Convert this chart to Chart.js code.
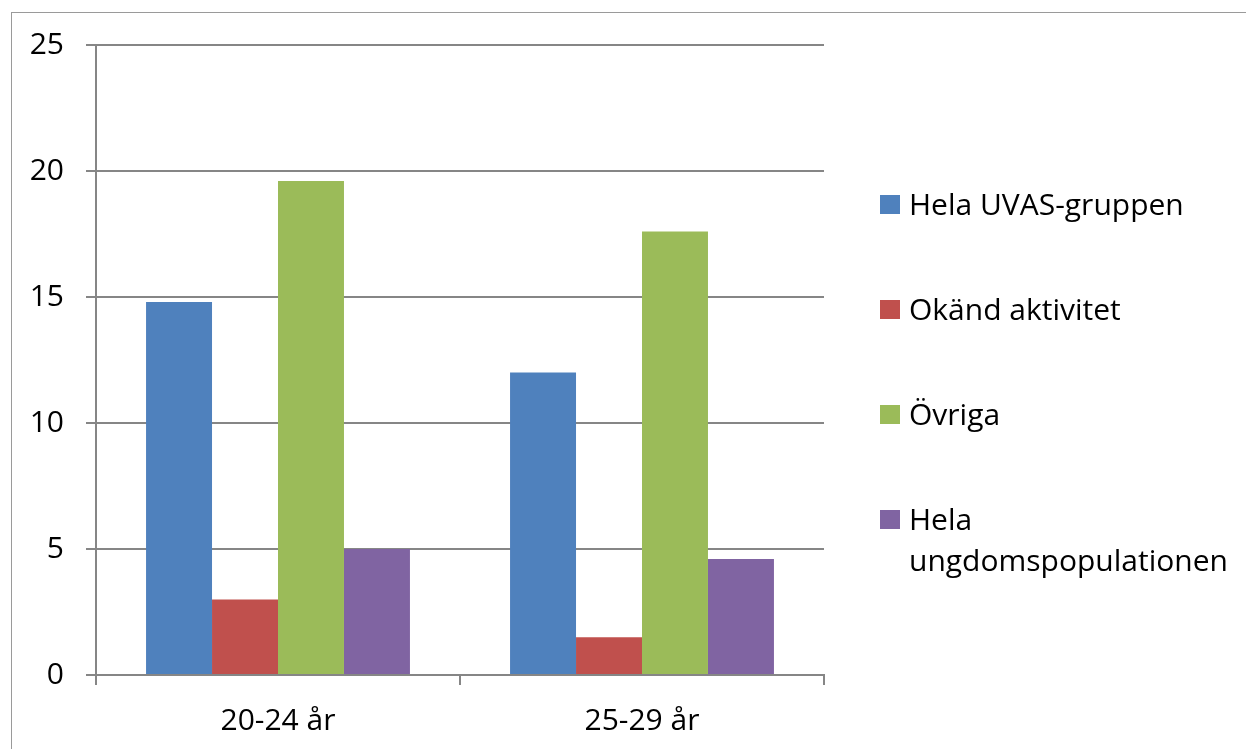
<!DOCTYPE html>
<html>
<head>
<meta charset="utf-8">
<script src="https://cdn.jsdelivr.net/npm/chart.js@4/dist/chart.umd.min.js"></script>
<style>
  html, body { margin: 0; padding: 0; background: #fff; }
  #wrap { width: 1246px; height: 749px; position: relative; }
</style>
</head>
<body>
<div id="wrap"><canvas id="chart" width="1246" height="749"></canvas></div>
<script>
// Categories and series
const categories = ["20-24 år", "25-29 år"];
const seriesNames = ["Hela UVAS-gruppen", "Okänd aktivitet", "Övriga", "Hela ungdomspopulationen"];
const uvasValues = [14.8, 12.0];
const okandValues = [3.0, 1.5];
const ovrigaValues = [19.6, 17.6];
const helaValues = [5.0, 4.6];
const seriesColors = ["#4F81BD", "#C0504D", "#9BBB59", "#8064A2"];

const FONT = "'Open Sans', Lato, sans-serif";
const gridGrey = "#868686";

// Outer frame, cut off at right and bottom like the source
const framePlugin = {
  id: "frame",
  beforeDraw(chart) {
    const ctx = chart.ctx;
    ctx.save();
    ctx.fillStyle = "#fff";
    ctx.fillRect(0, 0, chart.width, chart.height);
    ctx.strokeStyle = "#9a9a9a";
    ctx.lineWidth = 1;
    ctx.strokeRect(11.5, 12.5, 2000, 2000);
    ctx.restore();
  }
};

// Legend on the right, with wide spacing and wrapped labels
const sideLegend = {
  id: "sideLegend",
  afterDraw(chart) {
    const ctx = chart.ctx;
    ctx.save();
    ctx.font = "30px " + FONT;
    ctx.textBaseline = "alphabetic";
    ctx.fillStyle = "#000";
    const maxW = 330;
    chart.data.datasets.forEach((ds, i) => {
      const top = 195 + i * 105;
      ctx.fillStyle = ds.backgroundColor;
      ctx.fillRect(880, top, 20, 19);
      ctx.fillStyle = "#000";
      // simple word wrap
      const words = ds.label.split(" ");
      let lines = [], line = "";
      words.forEach(w => {
        const test = line ? line + " " + w : w;
        if (ctx.measureText(test).width > maxW && line) {
          lines.push(line);
          line = w;
        } else {
          line = test;
        }
      });
      lines.push(line);
      lines.forEach((l, j) => {
        ctx.fillText(l, 909, top + 20 + j * 41);
      });
    });
    ctx.restore();
  }
};

new Chart(document.getElementById("chart"), {
  type: "bar",
  plugins: [framePlugin, sideLegend],
  data: {
    labels: categories,
    datasets: [
      { label: seriesNames[0], data: uvasValues, backgroundColor: seriesColors[0] },
      { label: seriesNames[1], data: okandValues, backgroundColor: seriesColors[1] },
      { label: seriesNames[2], data: ovrigaValues, backgroundColor: seriesColors[2] },
      { label: seriesNames[3], data: helaValues, backgroundColor: seriesColors[3] },
    ],
  },
  options: {
    responsive: false,
    animation: false,
    layout: { padding: { top: 45, right: 422, left: 0, bottom: 0 } },
    datasets: { bar: { categoryPercentage: 0.725, barPercentage: 1.0 } },
    plugins: {
      legend: { display: false },
      tooltip: { enabled: false },
    },
    scales: {
      x: {
        grid: { drawOnChartArea: false, drawTicks: true, tickLength: 10, color: gridGrey, lineWidth: 2 },
        border: { color: gridGrey, width: 2 },
        ticks: { color: "#000", font: { family: FONT, size: 30 }, padding: 18 },
        afterFit(scale) { scale.height = 74; },
      },
      y: {
        min: 0,
        max: 25,
        ticks: { stepSize: 5, color: "#000", font: { family: FONT, size: 30 }, padding: 22 },
        grid: { color: gridGrey, lineWidth: 2, tickLength: 10 },
        border: { color: gridGrey, width: 2 },
        afterFit(scale) { scale.width = 96; },
      },
    },
  },
});
</script>
</body>
</html>
